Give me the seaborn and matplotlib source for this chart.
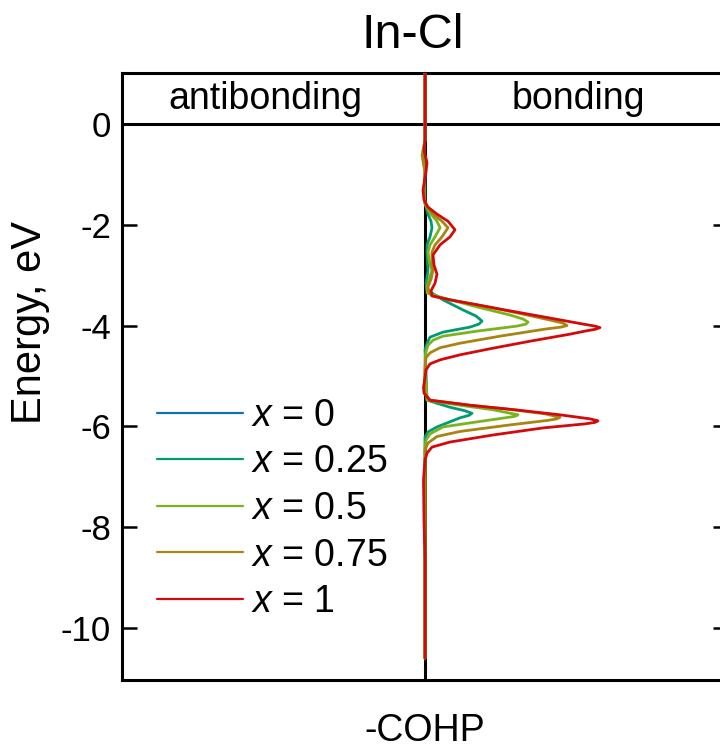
import numpy as np
import pandas as pd
import matplotlib
matplotlib.use("Agg")
import matplotlib.pyplot as plt
import seaborn as sns

# ---------------- data ----------------
series_labels = ["0", "0.25", "0.5", "0.75", "1"]
series_colors = ["#0A72BA", "#009B72", "#79B41E", "#A88412", "#D20A0A"]

energy_x0 = [1.0, -10.6]
cohp_x0 = [0.0, 0.0]

energy_x025 = [1.0, -0.32, -0.62, -0.95, -1.57, -1.79, -1.93, -2.06, -2.24, -2.40, -2.60,
               -2.90, -3.16, -3.29, -3.49, -3.69, -3.81, -3.91, -3.97, -4.03, -4.13, -4.23,
               -4.35, -4.48, -5.48, -5.62, -5.69, -5.74, -5.78, -5.83, -6.01, -6.11, -6.21,
               -10.6]
cohp_x025 = [0.0, 0.0, -0.01, 0.0, 0.0, 0.03, 0.06, 0.07, 0.05, 0.02, 0.02,
             0.03, 0.01, 0.02, 0.18, 0.38, 0.51, 0.57, 0.54, 0.45, 0.18, 0.05,
             0.02, 0.0, 0.02, 0.25, 0.40, 0.47, 0.44, 0.35, 0.12, 0.03, 0.0,
             0.0]

energy_x05 = [1.0, -0.32, -0.62, -0.95, -1.31, -1.57, -1.65, -1.79, -1.93, -2.06, -2.24,
              -2.40, -2.54, -2.80, -2.90, -3.08, -3.23, -3.35, -3.45, -3.63, -3.79, -3.87,
              -3.93, -3.97, -4.01, -4.11, -4.21, -4.29, -4.39, -4.52, -4.68, -5.48, -5.58,
              -5.67, -5.77, -5.80, -5.83, -5.91, -6.01, -6.15, -6.27, -6.43, -10.6]
cohp_x05 = [0.0, 0.0, -0.03, 0.0, -0.01, 0.0, 0.015, 0.06, 0.12, 0.15, 0.10,
            0.05, 0.03, 0.05, 0.07, 0.04, 0.02, 0.02, 0.18, 0.52, 0.85, 0.98,
            1.03, 1.01, 0.92, 0.52, 0.18, 0.08, 0.03, 0.01, 0.0, 0.02, 0.35,
            0.68, 0.93, 0.90, 0.80, 0.52, 0.18, 0.05, 0.01, 0.0, 0.0]

energy_x075 = [1.0, -0.32, -0.62, -0.95, -1.31, -1.57, -1.65, -1.79, -1.93, -2.06, -2.24,
               -2.40, -2.54, -2.80, -2.90, -3.08, -3.23, -3.35, -3.41, -3.49, -3.59, -3.69,
               -3.79, -3.89, -3.95, -4.00, -4.03, -4.07, -4.21, -4.35, -4.44, -4.54, -4.64,
               -4.78, -5.04, -5.34, -5.48, -5.58, -5.67, -5.75, -5.82, -5.85, -5.88, -5.97,
               -6.10, -6.20, -6.33, -6.47, -10.6]
cohp_x075 = [0.0, 0.0, -0.025, 0.0, -0.01, 0.0, 0.02, 0.08, 0.17, 0.23, 0.17,
             0.10, 0.07, 0.07, 0.08, 0.06, 0.03, 0.04, 0.07, 0.25, 0.52, 0.78,
             1.02, 1.25, 1.38, 1.42, 1.36, 1.20, 0.75, 0.35, 0.15, 0.05, 0.01,
             0.0, -0.005, -0.005, 0.05, 0.45, 0.88, 1.20, 1.35, 1.32, 1.23, 0.85,
             0.35, 0.12, 0.03, 0.0, 0.0]

energy_x1 = [1.0, -0.32, -0.52, -0.77, -0.95, -1.31, -1.51, -1.65, -1.79, -1.93, -2.10,
             -2.24, -2.40, -2.60, -2.80, -2.98, -3.16, -3.31, -3.41, -3.49, -3.59, -3.69,
             -3.79, -3.89, -3.97, -4.01, -4.04, -4.07, -4.11, -4.17, -4.31, -4.46, -4.58,
             -4.68, -4.76, -4.88, -5.04, -5.22, -5.34, -5.48, -5.58, -5.67, -5.77, -5.85,
             -5.89, -5.92, -5.95, -6.03, -6.17, -6.31, -6.41, -6.53, -6.67, -7.06, -7.86,
             -8.65, -10.6]
cohp_x1 = [0.0, 0.0, -0.01, 0.02, 0.01, -0.02, -0.01, 0.03, 0.12, 0.23, 0.30,
           0.25, 0.15, 0.08, 0.09, 0.12, 0.10, 0.06, 0.07, 0.25, 0.53, 0.80,
           1.08, 1.36, 1.58, 1.70, 1.75, 1.71, 1.60, 1.45, 1.05, 0.65, 0.35,
           0.15, 0.05, 0.01, 0.0, -0.015, -0.01, 0.05, 0.45, 0.90, 1.35, 1.65,
           1.73, 1.70, 1.60, 1.18, 0.68, 0.25, 0.07, 0.02, 0.0, -0.015, -0.01,
           0.0, 0.0]

yticks = [0, -2, -4, -6, -8, -10]

energies = [energy_x0, energy_x025, energy_x05, energy_x075, energy_x1]
cohps = [cohp_x0, cohp_x025, cohp_x05, cohp_x075, cohp_x1]

# ---------------- style ----------------
sns.set_theme(style="ticks")
plt.rcParams["font.family"] = ["Liberation Sans", "DejaVu Sans"]
plt.rcParams["mathtext.fontset"] = "custom"
plt.rcParams["mathtext.it"] = "Liberation Sans:italic"
plt.rcParams["mathtext.rm"] = "Liberation Sans"
plt.rcParams["text.color"] = "black"
plt.rcParams["axes.labelcolor"] = "black"

W, H = 720, 750
fig = plt.figure(figsize=(7.2, 7.5), dpi=100)
ax = fig.add_axes([122 / W, 1 - 680 / H, 606 / W, 607 / H])

ax.axvline(0, color="black", lw=2.2, zorder=1)
ax.axhline(0, color="black", lw=2.2, zorder=1)

for i, (lab, col, e, c) in enumerate(zip(series_labels, series_colors, energies, cohps)):
    df = pd.DataFrame({"E": e, "COHP": c})
    sns.lineplot(data=df, x="COHP", y="E", orient="y", sort=True, estimator=None,
                 color=col, lw=2.0, ax=ax, label=f"$x$ = {lab}",
                 zorder=0.5 if i == 0 else 3)

ax.set_xlim(-3.03, 3.03)
ax.set_ylim(-11.03, 1.01)
ax.set_yticks(yticks)
ax.set_yticklabels([str(t) for t in yticks])
ax.set_xticks([])
ax.set_xlabel("")
ax.set_ylabel("")
ax.tick_params(axis="y", direction="in", length=11, width=1.8, labelsize=25,
               left=True, right=True, pad=8, colors="black")
for s in ax.spines.values():
    s.set_linewidth(2.2)
    s.set_color("black")

ax.text(-1.6, 0.5, "antibonding", ha="center", va="center", fontsize=27, color="black")
ax.text(1.53, 0.5, "bonding", ha="center", va="center", fontsize=27, color="black")

leg = ax.legend(loc="upper left", bbox_to_anchor=(157 / W, 1 - 398 / H),
                bbox_transform=fig.transFigure, frameon=False, fontsize=27,
                handlelength=2.3, handletextpad=0.2, labelspacing=0.28,
                borderpad=0, borderaxespad=0)
for h in leg.get_lines():
    h.set_linewidth(1.6)
for t in leg.get_texts():
    t.set_color("black")

fig.text(413 / W, 1 - 35 / H, "In-Cl", ha="center", va="center", fontsize=35, color="black")
fig.text(30 / W, 1 - 322 / H, "Energy, eV", ha="center", va="center",
         rotation=90, fontsize=30, color="black")
fig.text(425 / W, 1 - 731 / H, "-COHP", ha="center", va="center", fontsize=27, color="black")

fig.savefig("out.png", dpi=100)
